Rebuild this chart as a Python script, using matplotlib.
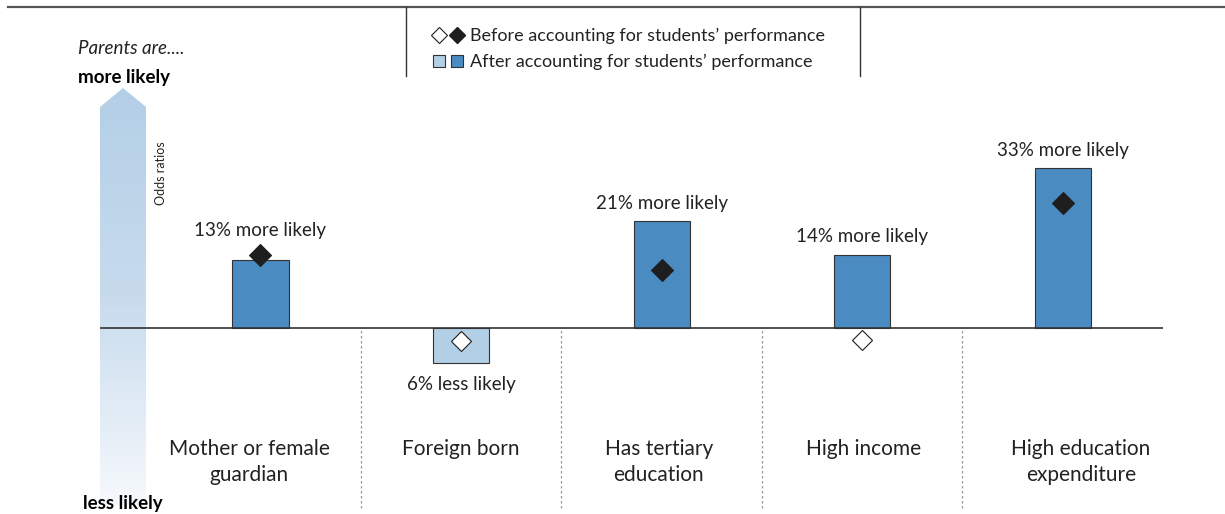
import numpy as np
import matplotlib.pyplot as plt
from matplotlib.patches import Polygon
from matplotlib.colors import LinearSegmentedColormap

plt.rcParams['font.family'] = ['Lato', 'DejaVu Sans']

# Data (odds ratios)
categories = ["Mother or female\nguardian", "Foreign born", "Has tertiary\neducation",
              "High income", "High education\nexpenditure"]
after = [1.13, 0.94, 1.21, 1.14, 1.33]
before = [1.14, 0.977, 1.11, 0.978, 1.25]
after_significant = [True, False, True, True, True]
before_significant = [True, False, True, False, True]
value_labels = ["13% more likely", "6% less likely", "21% more likely",
                "14% more likely", "33% more likely"]

dark_blue = "#4a8bc2"
light_blue = "#b3cfe6"
text_col = "#222222"

W, H = 1225, 514
fig = plt.figure(figsize=(W / 100, H / 100), dpi=100)

# overlay axes in pixel coords for decorations
ov = fig.add_axes([0, 0, 1, 1])
ov.set_xlim(0, W)
ov.set_ylim(H, 0)
ov.axis("off")

# main chart axes (log scale so ratios are symmetric)
ax = fig.add_axes([100 / W, 0, 1063 / W, 1])
ax.set_yscale("log")
ax.set_ylim(np.exp(-(H - 328) / 560), np.exp(328 / 560))
ax.set_xlim(-0.8, 4.5)
ax.patch.set_alpha(0)
for s in ax.spines.values():
    s.set_visible(False)
ax.set_xticks([])
ax.set_yticks([])
ax.yaxis.set_minor_locator(plt.NullLocator())

x = np.arange(len(categories))
bar_colors = [dark_blue if s else light_blue for s in after_significant]
ax.bar(x, [v - 1 for v in after], bottom=1, width=0.28, color=bar_colors,
       edgecolor="#333333", linewidth=0.8, zorder=2)
ax.axhline(1, color="#333333", lw=1.2, zorder=3)

for xi, b, sig in zip(x, before, before_significant):
    ax.plot(xi, b, marker="D", markersize=11 if sig else 10,
            markerfacecolor="#1e1e1e" if sig else "white",
            markeredgecolor="#1e1e1e", markeredgewidth=0.8, zorder=4)

for xi, v, b, lab in zip(x, after, before, value_labels):
    if v >= 1:
        off = 21 if b > v else 13
        ax.annotate(lab, (xi, v), xytext=(0, off),
                    textcoords="offset points", ha="center", va="center",
                    fontsize=13.5, color=text_col)
    else:
        ax.annotate(lab, (xi, v), xytext=(0, -16), textcoords="offset points",
                    ha="center", va="center", fontsize=13.5, color=text_col)

ax.vlines(x[:-1] + 0.5, np.exp(-(508 - 328) / 560), 1, colors="#999999",
          linestyles=(0, (2, 2)), lw=0.9)

# category labels (slightly shifted as in the original)
label_shift = [-8, 0, -2, 1, 13]
xt = ax.get_xaxis_transform()
for xi, c, dx in zip(x, categories, label_shift):
    ax.annotate(c, (xi, (H - 439) / H), xycoords=xt, xytext=(dx, 0),
                textcoords="offset points", ha="center", va="top",
                fontsize=15, color=text_col, linespacing=1.4)

# gradient arrow
grad = LinearSegmentedColormap.from_list("g", ["#f6f9fc", "#c8dbed", "#b3cfe6"])
img = ov.imshow(np.linspace(0, 1, 256).reshape(-1, 1)[::-1], cmap=grad, aspect="auto",
                extent=[100, 146, 505, 88], zorder=1)
arrow = Polygon([(100, 107), (123, 88), (146, 107), (146, 505), (100, 505)],
                closed=True, facecolor="none", edgecolor="none")
ov.add_patch(arrow)
img.set_clip_path(arrow)
ov.set_xlim(0, W)
ov.set_ylim(H, 0)

ov.text(78, 48, "Parents are....", style="italic", fontsize=13.5, color=text_col,
        va="center", ha="left")
ov.text(78, 77, "more likely", fontweight="bold", fontsize=13.5, color="black",
        va="center", ha="left")
ov.text(83, 503, "less likely", fontweight="bold", fontsize=13.5, color="black",
        va="center", ha="left")
ov.text(161, 173, "Odds ratios", rotation=90, fontsize=9, color=text_col,
        va="center", ha="center")

# top frame and legend
ov.plot([8, W], [7, 7], color="#555555", lw=1.6)
ov.plot([406, 406], [7, 76], color="#333333", lw=1)
ov.plot([860, 860], [7, 76], color="#333333", lw=1)
ov.plot(439, 35, marker="D", markersize=8, markerfacecolor="white",
        markeredgecolor="#1e1e1e", markeredgewidth=0.8)
ov.plot(457, 35, marker="D", markersize=8, markerfacecolor="#1e1e1e",
        markeredgecolor="#1e1e1e")
ov.plot(439, 61, marker="s", markersize=9, markerfacecolor=light_blue,
        markeredgecolor="#333333", markeredgewidth=0.8)
ov.plot(457, 61, marker="s", markersize=9, markerfacecolor=dark_blue,
        markeredgecolor="#333333", markeredgewidth=0.8)
ov.text(470, 36, "Before accounting for students\u2019 performance", fontsize=13,
        color=text_col, va="center", ha="left")
ov.text(470, 62, "After accounting for students\u2019 performance", fontsize=13,
        color=text_col, va="center", ha="left")

fig.savefig("out.png", dpi=100)
